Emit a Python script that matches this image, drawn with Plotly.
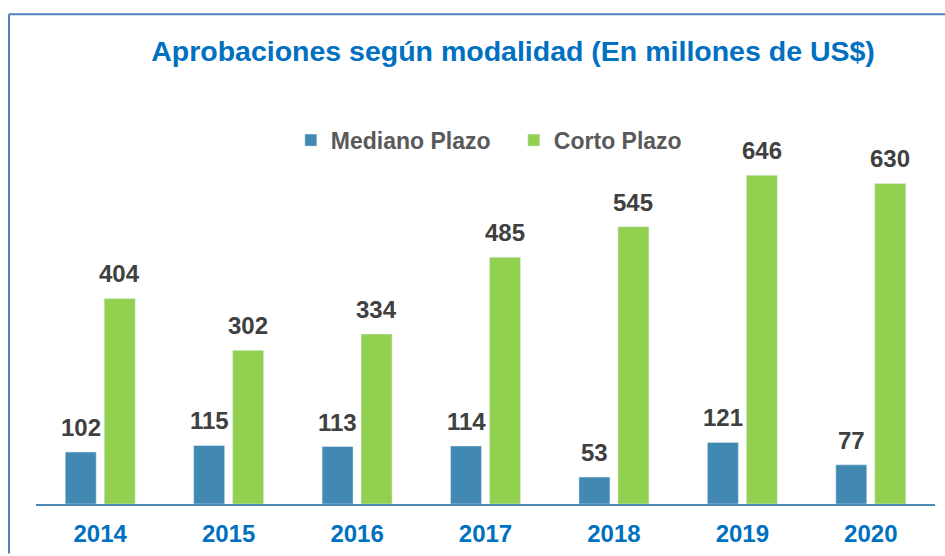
import plotly.graph_objects as go

years = ["2014", "2015", "2016", "2017", "2018", "2019", "2020"]
mediano = [102, 115, 113, 114, 53, 121, 77]
corto = [404, 302, 334, 485, 545, 646, 630]

FONT = "Liberation Sans, Arial, sans-serif"
BLUE = "#4189B3"
GREEN = "#92D050"
LABEL = "#404040"

fig = go.Figure()
fig.add_trace(go.Bar(x=years, y=mediano, name="<b>Mediano Plazo</b>", marker_color=BLUE))
fig.add_trace(go.Bar(x=years, y=corto, name="<b>Corto Plazo</b>", marker_color=GREEN))

L, R, T, B = 36, 9.5, 160, 49
W, H = 945, 556
pw = W - L - R
ph = H - T - B

def px_x(p):
    return (p - L) / pw

def px_y(p):
    return (H - B - p) / ph

annotations = []
for series, shift in ((mediano, -19.5), (corto, 19.5)):
    for i, v in enumerate(series):
        annotations.append(dict(
            x=i, y=v, xref="x", yref="y", text=f"<b>{v}</b>",
            showarrow=False, xanchor="center", yanchor="bottom",
            xshift=shift, yshift=9,
            font=dict(family=FONT, size=24, color=LABEL),
        ))

fig.update_layout(
    width=W, height=H,
    margin=dict(l=L, r=R, t=T, b=B),
    paper_bgcolor="white", plot_bgcolor="white",
    barmode="group", bargap=0.393, bargroupgap=0.205,
    title=dict(
        text="<b>Aprobaciones según modalidad (En millones de US$)</b>",
        font=dict(family=FONT, size=28.5, color="#0070C0"),
        x=513 / W, xanchor="center", y=1 - 51 / H, yanchor="middle",
    ),
    legend=dict(
        orientation="h", x=px_x(291), xanchor="left",
        y=px_y(140), yanchor="middle",
        font=dict(family=FONT, size=23, color="#595959"),
        itemwidth=30, traceorder="normal", entrywidth=178,
    ),
    showlegend=True,
    xaxis=dict(
        type="category", range=[-0.5, len(years) - 0.5], autorange=False,
        showline=True, linecolor="#4A8AB5", linewidth=2,
        tickfont=dict(family=FONT, size=24, color="#0070C0"),
        ticks="", showgrid=False, ticklabelstandoff=7,
        tickprefix="<b>", ticksuffix="</b>",
    ),
    yaxis=dict(
        range=[0, 676], autorange=False, visible=False,
        showgrid=False, zeroline=False,
    ),
    annotations=annotations,
    shapes=[
        dict(type="line", xref="paper", yref="paper",
             x0=px_x(9), x1=px_x(946), y0=px_y(13), y1=px_y(13),
             line=dict(color="#4F81BD", width=2)),
        dict(type="line", xref="paper", yref="paper",
             x0=px_x(9), x1=px_x(9), y0=px_y(13), y1=px_y(557),
             line=dict(color="#4F81BD", width=2)),
    ],
)

fig.write_html("out.html", config={"displayModeBar": False},
               post_script="document.body.style.margin='0';")
